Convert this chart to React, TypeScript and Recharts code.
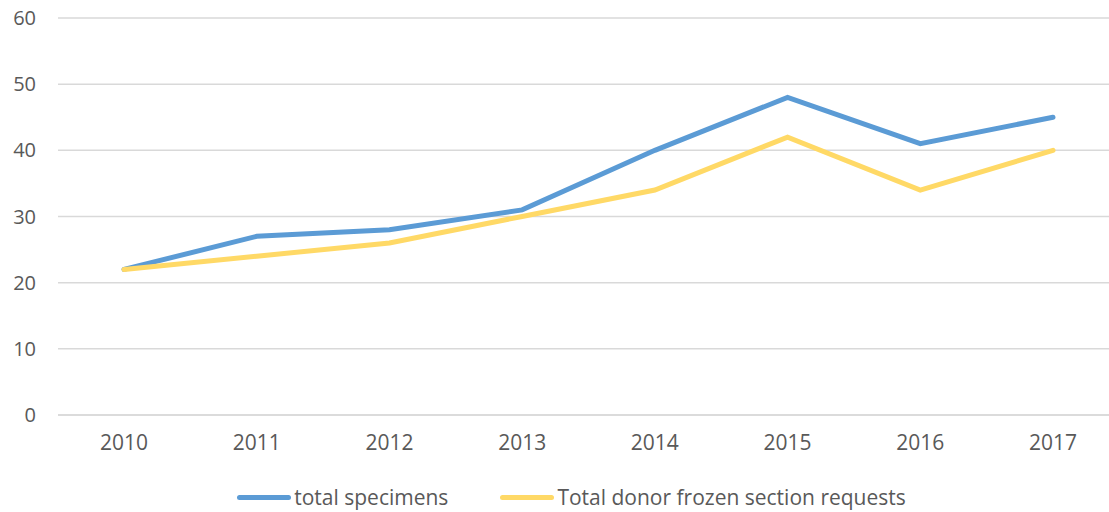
import React from "react";
import { LineChart, Line, XAxis, YAxis, CartesianGrid, Legend } from "recharts";

const years = ["2010", "2011", "2012", "2013", "2014", "2015", "2016", "2017"];
const totalSpecimens = [22, 27, 28, 31, 40, 48, 41, 45];
const donorFrozen = [22, 24, 26, 30, 34, 42, 34, 40];
const yTicks = [0, 10, 20, 30, 40, 50, 60];

const SERIES = [
  { key: "specimens", name: "total specimens", color: "#5B9BD5" },
  { key: "donor", name: "Total donor frozen section requests", color: "#FFD966" },
];

const FONT = "'Open Sans', sans-serif";
const TEXT = "#595959";

const data = years.map((y, i) => ({
  year: y,
  specimens: totalSpecimens[i],
  donor: donorFrozen[i],
}));

function LegendContent() {
  return (
    <div style={{ display: "flex", justifyContent: "center", alignItems: "center", height: 30, fontFamily: FONT, fontSize: 21, color: TEXT, paddingLeft: 24 }}>
      {SERIES.map((s, i) => (
        <div key={s.key} style={{ display: "flex", alignItems: "center", marginRight: i === 0 ? 52 : 0 }}>
          <span style={{ width: 54, height: 5, borderRadius: 3, background: s.color, marginRight: 3 }} />
          <span>{s.name}</span>
        </div>
      ))}
    </div>
  );
}

export default function App() {
  return (
    <div style={{ position: "absolute", left: 0, top: 0, width: 1109, height: 512, overflow: "hidden", background: "#fff" }}>
      <LineChart width={1120} height={512} data={data} margin={{ top: 18, right: 1, left: 0, bottom: 27 }}>
        <CartesianGrid vertical={false} stroke="#D9D9D9" strokeWidth={1.5} />
        <XAxis
          dataKey="year"
          height={40}
          padding={{ left: 66, right: 66 }}
          axisLine={{ stroke: "#D9D9D9", strokeWidth: 1.5 }}
          tickLine={false}
          tickMargin={14}
          tick={{ fill: TEXT, fontSize: 21, fontFamily: FONT }}
        />
        <YAxis
          width={58}
          domain={[0, 60]}
          ticks={yTicks}
          axisLine={false}
          tickLine={false}
          tickMargin={16}
          tick={{ fill: TEXT, fontSize: 20, fontFamily: FONT }}
        />
        <Legend verticalAlign="bottom" height={30} content={<LegendContent />} wrapperStyle={{ bottom: 0 }} />
        {SERIES.map((s) => (
          <Line
            key={s.key}
            type="linear"
            dataKey={s.key}
            name={s.name}
            stroke={s.color}
            strokeWidth={5}
            strokeLinecap="round"
            dot={false}
            activeDot={false}
            isAnimationActive={false}
          />
        ))}
      </LineChart>
    </div>
  );
}
